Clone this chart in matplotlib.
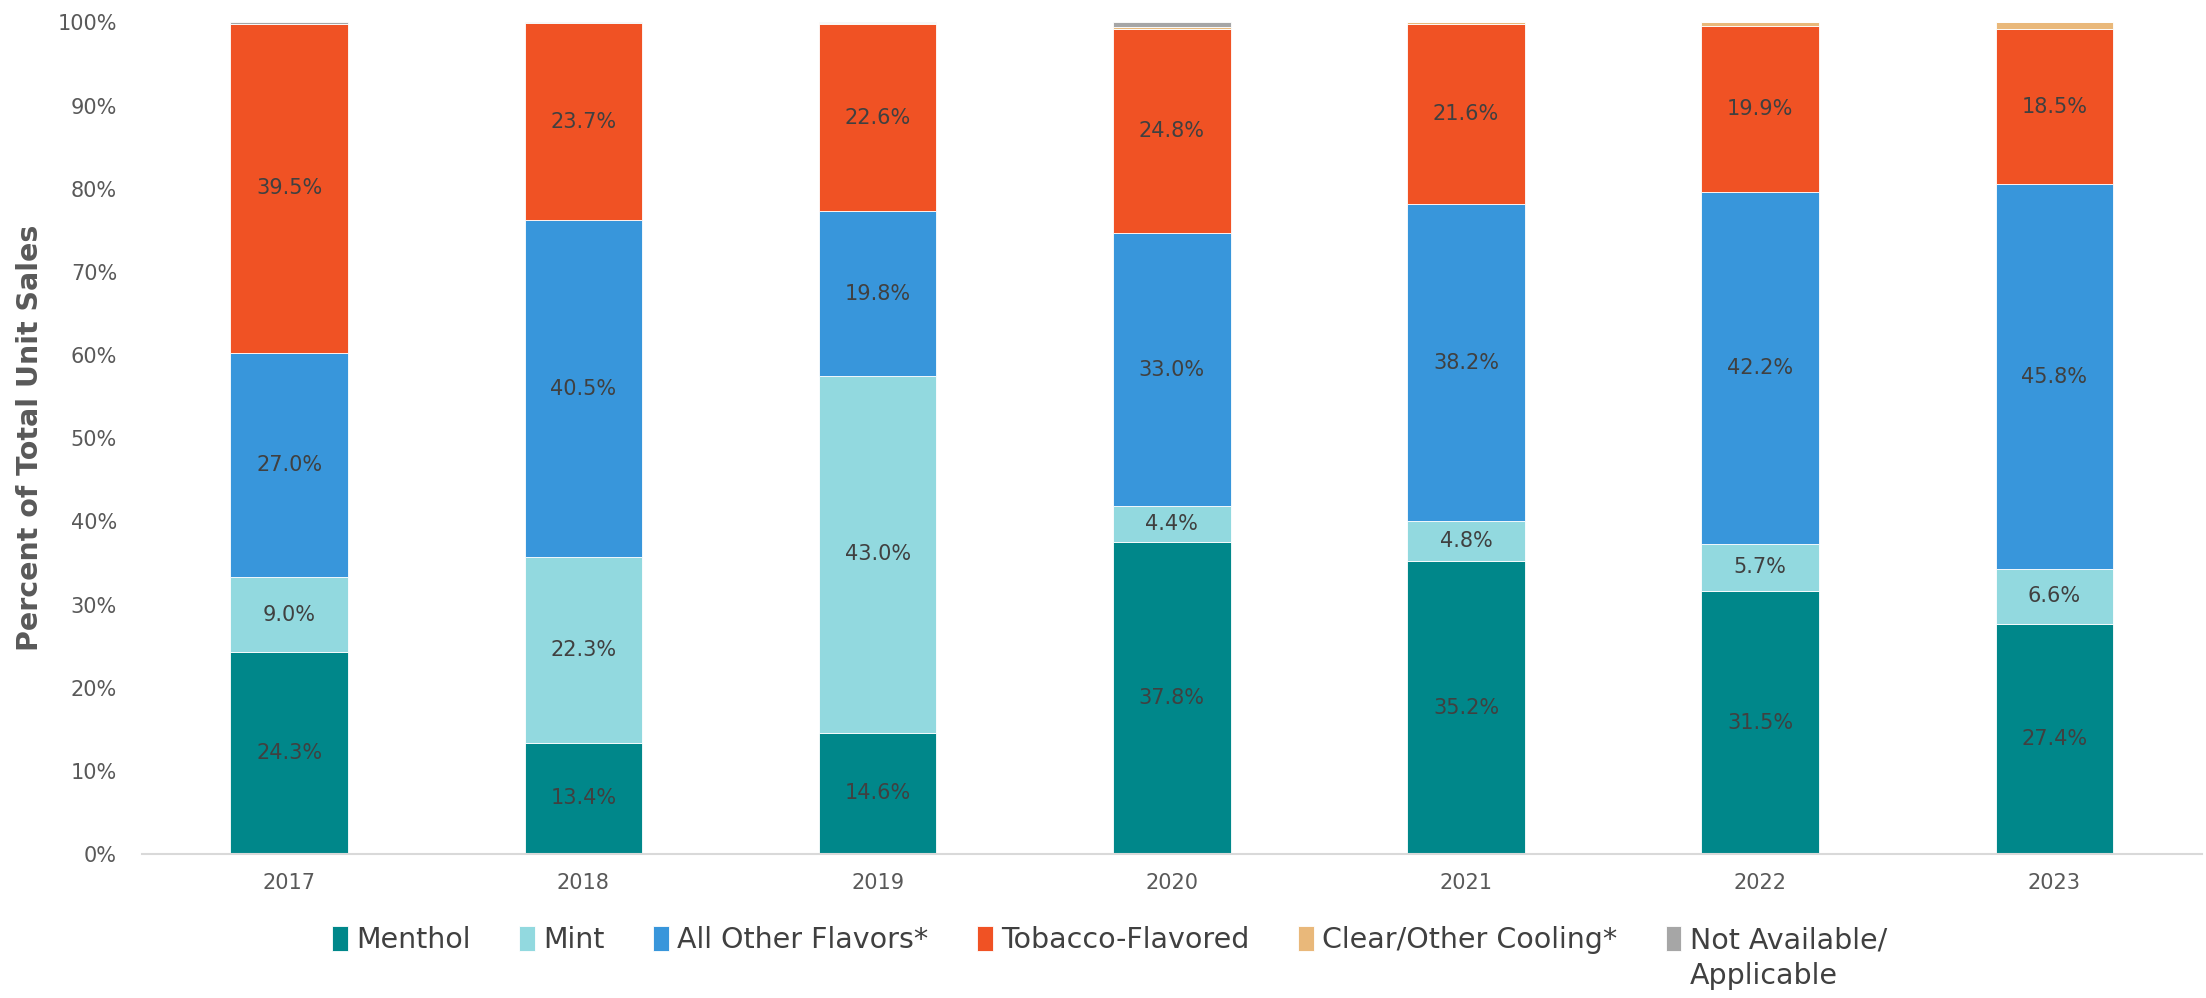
import matplotlib as mpl
import matplotlib.pyplot as plt
import numpy as np

mpl.rcParams.update({"font.family": ["DejaVu Sans"]})

YEARS = ["2017", "2018", "2019", "2020", "2021", "2022", "2023"]
SERIES = ["Menthol", "Mint", "All Other Flavors*", "Tobacco-Flavored",
          "Clear/Other Cooling*", "Not Available/"]
LAST_LABEL_LINE2 = "Applicable"

menthol = [24.3, 13.4, 14.6, 37.8, 35.2, 31.5, 27.4]
mint = [9.0, 22.3, 43.0, 4.4, 4.8, 5.7, 6.6]
other = [27.0, 40.5, 19.8, 33.0, 38.2, 42.2, 45.8]
tobacco = [39.5, 23.7, 22.6, 24.8, 21.6, 19.9, 18.5]
clear = [0.0, 0.05, 0.1, 0.15, 0.2, 0.4, 0.8]
not_avail = [0.2, 0.05, 0.05, 0.6, 0.0, 0.0, 0.0]

COLORS = ["#00878A", "#92D9DF", "#3896DB", "#F05224", "#E9B87A", "#A6A6A6"]
LABELLED = 4  # only the first four series carry value labels

data = np.array([menthol, mint, other, tobacco, clear, not_avail])
totals = data.sum(axis=0)
shares = data / totals * 100.0

fig = plt.figure(figsize=(22.06, 9.98), dpi=100)
ax = fig.add_axes([0.0644, 0.1443, 0.9336, 0.8332])

x = np.arange(len(YEARS))
bottom = np.zeros(len(YEARS))
handles = []
for i, (name, col) in enumerate(zip(SERIES, COLORS)):
    h = ax.bar(x, shares[i], 0.4, bottom=bottom, color=col,
               edgecolor="white", linewidth=0.6, label=name)
    handles.append(h)
    if i < LABELLED:
        for xi, b, s, v in zip(x, bottom, shares[i], data[i]):
            ax.text(xi, b + s / 2, f"{v:.1f}%", ha="center", va="center",
                    fontsize=15, color="#404040")
    bottom += shares[i]

ax.set_xlim(-0.5, len(YEARS) - 0.5)
ax.set_ylim(0, 100)
ax.set_xticks(x)
ax.set_xticklabels(YEARS)
ax.set_yticks(np.arange(0, 101, 10))
ax.set_yticklabels([f"{v}%" for v in range(0, 101, 10)])
ax.tick_params(axis="both", length=0, labelsize=15, labelcolor="#595959")
ax.tick_params(axis="x", pad=14)
ax.tick_params(axis="y", pad=18)
for side in ["top", "right", "left"]:
    ax.spines[side].set_visible(False)
ax.spines["bottom"].set_color("#D9D9D9")
ax.spines["bottom"].set_linewidth(1.5)

ax.set_ylabel("Percent of Total Unit Sales", fontsize=20.5, fontweight="bold",
              color="#595959", labelpad=10)

leg = fig.legend(handles=handles, loc="center",
                 bbox_to_anchor=(0.503, 0.058), ncol=6, frameon=False,
                 fontsize=20.5, handlelength=0.55, handleheight=1.0,
                 handletextpad=0.3, columnspacing=1.7, labelcolor="#404040")

# second line of the last legend entry, set under its first line
fig.canvas.draw()
bb = leg.get_texts()[-1].get_window_extent()
x0, y0 = fig.transFigure.inverted().transform((bb.x0, bb.y0))
fig.text(x0, y0 - 0.008, LAST_LABEL_LINE2, ha="left", va="top",
         fontsize=20.5, color="#404040")

fig.savefig("out.png", dpi=100)
